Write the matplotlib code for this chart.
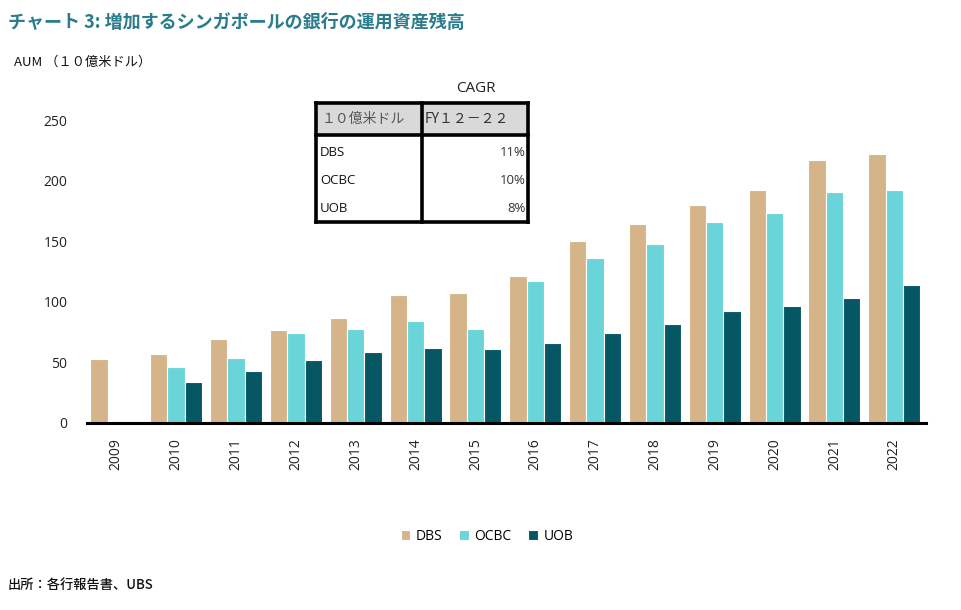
import matplotlib
matplotlib.use("Agg")
import matplotlib.pyplot as plt
import numpy as np
from matplotlib.patches import Rectangle
from matplotlib.lines import Line2D

plt.rcParams['font.family'] = ['Open Sans', 'Noto Sans CJK JP', 'DejaVu Sans']

years = ["2009", "2010", "2011", "2012", "2013", "2014", "2015",
         "2016", "2017", "2018", "2019", "2020", "2021", "2022"]
dbs = [53, 57, 69, 77, 87, 106, 107, 121, 150, 164, 180, 192, 217, 222]
ocbc = [0, 46, 54, 74, 78, 84.5, 78, 117.5, 136.5, 148, 166, 173.5, 191, 192]
uob = [0, 34, 43, 52, 59, 62, 61, 66, 74.5, 82, 92.5, 97, 103.5, 114]
series_names = ["DBS", "OCBC", "UOB"]
colors = ["#D6B48A", "#69D5D8", "#055763"]
yticks = [0, 50, 100, 150, 200, 250]

table_header = ["１０億米ドル", "FY１２－２２"]
table_banks = ["DBS", "OCBC", "UOB"]
table_cagr = ["11%", "10%", "8%"]

fig = plt.figure(figsize=(9.61, 6.10), dpi=100)
W, H = 961, 610
ax = fig.add_axes([87 / W, 1 - 423 / H, (926 - 87) / W, (423 - 96) / H])

x = np.arange(len(years))
w = 0.29
for i, (vals, c) in enumerate(zip([dbs, ocbc, uob], colors)):
    ax.bar(x + (i - 1) * w, vals, width=w, color=c, edgecolor="white",
           linewidth=0.8, label=series_names[i], zorder=2)

ax.set_xlim(-0.49, 13.53)
ax.set_ylim(0, 270)
ax.set_yticks(yticks)
ax.set_yticklabels([str(t) for t in yticks], fontsize=10, color="#222222")
ax.set_xticks(x)
ax.set_xticklabels(years, rotation=90, fontsize=10, color="#222222")
ax.tick_params(axis='both', length=0)
ax.tick_params(axis='y', pad=14)
ax.tick_params(axis='x', pad=11)
for s in ["top", "right", "left"]:
    ax.spines[s].set_visible(False)
ax.spines["bottom"].set_linewidth(2.2)
ax.spines["bottom"].set_color("black")

# Title etc
fig.text(8 / W, 1 - 22 / H, "チャート 3: 増加するシンガポールの銀行の運用資産残高",
         fontsize=13, fontweight="bold", color="#2B7C8C", va="center", ha="left",
         family=['Noto Sans CJK JP', 'DejaVu Sans'])
fig.text(14 / W, 1 - 62 / H, "AUM （１０億米ドル）", fontsize=9.5, va="center",
         ha="left", color="#111111", family=['Noto Sans CJK JP', 'DejaVu Sans'])
fig.text(8 / W, 1 - 585 / H, "出所：各行報告書、UBS", fontsize=9.5, va="center",
         ha="left", color="#111111", fontweight="medium",
         family=['Noto Sans CJK JP', 'DejaVu Sans'])

# Table
def fx(px):
    return px / W

def fy(py):
    return 1 - py / H

L, R, T, B = 316, 528, 103, 222
MID, HB = 422, 135
fig.patches.append(Rectangle((fx(L), fy(HB)), fx(R) - fx(L), fy(T) - fy(HB),
                             transform=fig.transFigure, facecolor="#D9D9D9",
                             edgecolor="none", zorder=3))
lw = 2.6
for (x0, y0, x1, y1) in [(L, T, R, T), (L, B, R, B), (L, T, L, B), (R, T, R, B),
                         (MID, T, MID, B), (L, HB, R, HB)]:
    fig.lines.append(Line2D([fx(x0), fx(x1)], [fy(y0), fy(y1)],
                            transform=fig.transFigure, color="black",
                            linewidth=lw, zorder=4, solid_capstyle="projecting"))
fig.text(fx((L + R) / 2 + 54), fy(88), "CAGR", fontsize=11, ha="center",
         va="center", color="#222222")
fig.text(fx(L + 6), fy((T + HB) / 2), table_header[0], fontsize=10, ha="left",
         va="center", color="#555555", family=['Noto Sans CJK JP', 'DejaVu Sans'])
fig.text(fx(MID + 3), fy((T + HB) / 2), table_header[1], fontsize=10, ha="left",
         va="center", color="#333333", family=['Noto Sans CJK JP', 'DejaVu Sans'])
row_y = [152, 180, 208]
for b, v, yy in zip(table_banks, table_cagr, row_y):
    fig.text(fx(L + 4), fy(yy), b, fontsize=9.5, ha="left", va="center", color="#111111")
    fig.text(fx(R - 2), fy(yy), v, fontsize=9.5, ha="right", va="center", color="#333333")

leg = fig.legend(loc="center", bbox_to_anchor=(487 / W, 1 - 536 / H), ncol=3,
                 frameon=False, fontsize=10, handlelength=0.7, handleheight=0.7,
                 handletextpad=0.4, columnspacing=1.2)

fig.savefig("out.png", dpi=100)
